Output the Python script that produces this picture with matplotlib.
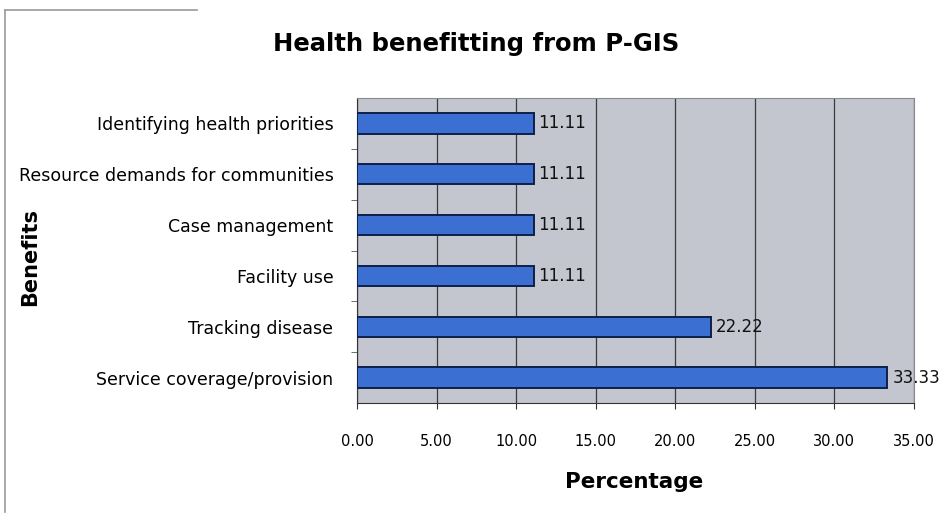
import matplotlib
matplotlib.use("Agg")
import matplotlib.pyplot as plt
from matplotlib.lines import Line2D

categories = [
    "Service coverage/provision",
    "Tracking disease",
    "Facility use",
    "Case management",
    "Resource demands for communities",
    "Identifying health priorities",
]
values = [33.33, 22.22, 11.11, 11.11, 11.11, 11.11]
x_ticks = [0, 5, 10, 15, 20, 25, 30, 35]

plt.rcParams["font.family"] = ["DejaVu Sans"]

fig = plt.figure(figsize=(9.41, 5.15), dpi=100)
ax = fig.add_axes([357 / 941, 1 - 403 / 515, (914 - 357) / 941, (403 - 98) / 515])
ax.set_facecolor("#C3C6CF")

pos = list(range(len(categories)))
ax.barh(pos, values, height=0.4, color="#3B6FD2", edgecolor="#0E1F4A",
        linewidth=1.4, zorder=3)

for p, v in zip(pos, values):
    ax.text(v + 0.3, p, f"{v:.2f}", va="center", ha="left",
            fontsize=12, color="#111111", zorder=4)

ax.set_xlim(0, 35)
ax.set_ylim(-0.5, len(categories) - 0.5)
ax.set_xticks(x_ticks)
ax.set_xticklabels([f"{t:.2f}" for t in x_ticks], fontsize=10.5)
ax.set_yticks(pos)
ax.set_yticklabels(categories, fontsize=12.5)
ax.tick_params(axis="y", length=0, pad=17)
ax.tick_params(axis="x", length=4, pad=18, direction="out", color="#333333")
ax.set_yticks([p + 0.5 for p in pos[:-1]], minor=True)
ax.tick_params(axis="y", which="minor", length=4, direction="out", color="#555555")

ax.grid(axis="x", color="#3A3A3A", linewidth=0.9, zorder=1)
for side in ["top", "right"]:
    ax.spines[side].set_color("#8A8A8A")
ax.spines["left"].set_color("#333333")
ax.spines["bottom"].set_color("#333333")

ax.set_xlabel("Percentage", fontsize=15.5, fontweight="bold")
ax.xaxis.set_label_coords((634 - 357) / (914 - 357), -(482 - 403) / (403 - 98))
ax.set_ylabel("Benefits", fontsize=15, fontweight="bold")
ax.yaxis.set_label_coords(-(357 - 30) / (914 - 357), (403 - 257) / (403 - 98))
ax.xaxis.label.set_va("center")
ax.yaxis.label.set_va("center")

fig.text(476 / 941, 1 - 44 / 515, "Health benefitting from P-GIS",
         ha="center", va="center", fontsize=17.5, fontweight="bold")

# chart frame
fig.add_artist(Line2D([5 / 941, 5 / 941], [1 - 10 / 515, 1 - 512 / 515],
                      color="#9A9A9A", linewidth=1.2))
fig.add_artist(Line2D([5 / 941, 197 / 941], [1 - 10 / 515, 1 - 10 / 515],
                      color="#9A9A9A", linewidth=1.2))

fig.savefig("out.png", dpi=100, facecolor="white")
